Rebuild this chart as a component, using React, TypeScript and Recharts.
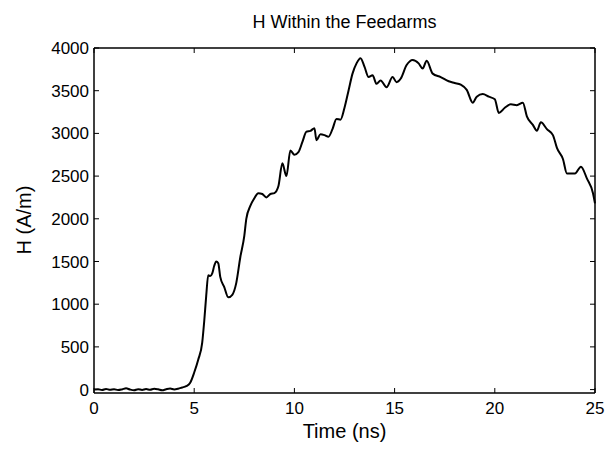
import { LineChart, Line, XAxis, YAxis } from 'recharts';

const times = [
  0, 0.2, 0.4, 0.6, 0.8, 1.0, 1.2, 1.4, 1.6, 1.8, 2.0, 2.2, 2.4, 2.6, 2.8, 3.0, 3.2, 3.4, 3.6, 3.8, 4.0, 4.2, 4.4,
  4.6, 4.8, 5.0, 5.2, 5.4, 5.5, 5.6, 5.7, 5.8, 5.9, 6.0, 6.1, 6.2, 6.3, 6.5, 6.7, 6.9, 7.1, 7.3, 7.5, 7.6, 7.8,
  8.0, 8.2, 8.4, 8.6, 8.8, 9.0, 9.2, 9.4, 9.6, 9.8, 10.0, 10.2, 10.4, 10.6, 10.8, 11.0, 11.1, 11.3, 11.5, 11.7,
  11.9, 12.1, 12.3, 12.5, 12.7, 12.9, 13.1, 13.3, 13.5, 13.7, 13.9, 14.1, 14.3, 14.6, 14.9, 15.1, 15.3, 15.6,
  15.9, 16.2, 16.4, 16.6, 16.9, 17.3, 17.7, 18.0, 18.3, 18.6, 18.9, 19.1, 19.4, 19.7, 20.0, 20.2, 20.5, 20.8,
  21.1, 21.4, 21.6, 21.9, 22.1, 22.3, 22.6, 22.9, 23.1, 23.4, 23.6, 24.0, 24.3, 24.6, 24.9, 25.0,
];

const hField = [
  0, 5, -5, 8, -3, 4, -6, 2, 15, 0, -8, 5, -4, 6, -2, 10, 3, -8, 4, 12, 2, 10, 25,
  40, 80, 200, 350, 550, 800, 1100, 1340, 1330, 1360, 1450, 1500, 1480, 1320, 1200, 1080, 1110, 1250, 1550, 1800, 2000, 2150,
  2240, 2300, 2290, 2250, 2290, 2300, 2380, 2650, 2500, 2800, 2750, 2780, 2900, 3020, 3030, 3060, 2920, 2990, 2980, 2960,
  3050, 3170, 3160, 3300, 3500, 3700, 3820, 3880, 3780, 3660, 3680, 3580, 3620, 3540, 3660, 3600, 3640, 3800,
  3860, 3820, 3760, 3850, 3700, 3660, 3610, 3590, 3570, 3510, 3360, 3430, 3460, 3430, 3400, 3240, 3300, 3340,
  3330, 3360, 3200, 3100, 3030, 3130, 3050, 2980, 2830, 2700, 2530, 2530, 2610, 2470, 2300, 2180,
];

const xTicks = [0, 5, 10, 15, 20, 25];
const yTicks = [0, 500, 1000, 1500, 2000, 2500, 3000, 3500, 4000];

const data = times.map((t, i) => ({ t, h: hField[i] }));

const font = 'Liberation Sans, Arial, sans-serif';
const tickStyle = { fill: '#000', fontSize: 17, fontFamily: font };
const axisLine = { stroke: '#000', strokeWidth: 1.5 };

const App = () => (
  <div style={{ position: 'absolute', left: 0, top: 0, width: 608, height: 449, background: '#fff', fontFamily: font }}>
    <div style={{ position: 'absolute', left: 94, width: 501, top: 12, textAlign: 'center', fontSize: 18 }}>
      H Within the Feedarms
    </div>
    <div style={{ position: 'absolute', left: 94, width: 501, top: 420, textAlign: 'center', fontSize: 20 }}>
      Time (ns)
    </div>
    <div
      style={{
        position: 'absolute', left: 24, top: 220, fontSize: 20, whiteSpace: 'nowrap',
        transform: 'translate(-50%, -50%) rotate(-90deg)',
      }}
    >
      H (A/m)
    </div>
    <LineChart width={608} height={449} data={data} margin={{ top: 47, right: 12, bottom: 55, left: 44 }}>
      <XAxis dataKey="t" type="number" domain={[0, 25]} ticks={xTicks} tick={tickStyle} height={1}
        axisLine={axisLine} tickLine={{ stroke: '#000' }} tickSize={-5} tickMargin={14} />
      <XAxis xAxisId="top" orientation="top" dataKey="t" type="number" domain={[0, 25]} ticks={xTicks} height={1}
        tickFormatter={() => ''} axisLine={axisLine} tickLine={{ stroke: '#000' }} tickSize={-5} />
      <YAxis type="number" domain={[-40, 4000]} ticks={yTicks} width={50} tick={tickStyle} interval={0}
        axisLine={axisLine} tickLine={{ stroke: '#000' }} tickSize={-5} tickMargin={10} />
      <YAxis yAxisId="right" orientation="right" type="number" domain={[-40, 4000]} ticks={yTicks} width={1}
        tickFormatter={() => ''} axisLine={axisLine} tickLine={{ stroke: '#000' }} tickSize={-5} />
      <Line xAxisId="top" yAxisId="right" dataKey="h" stroke="none" dot={false} isAnimationActive={false} />
      <Line type="monotone" dataKey="h" stroke="#000" strokeWidth={2} dot={false} isAnimationActive={false} />
    </LineChart>
  </div>
);

export default App;
